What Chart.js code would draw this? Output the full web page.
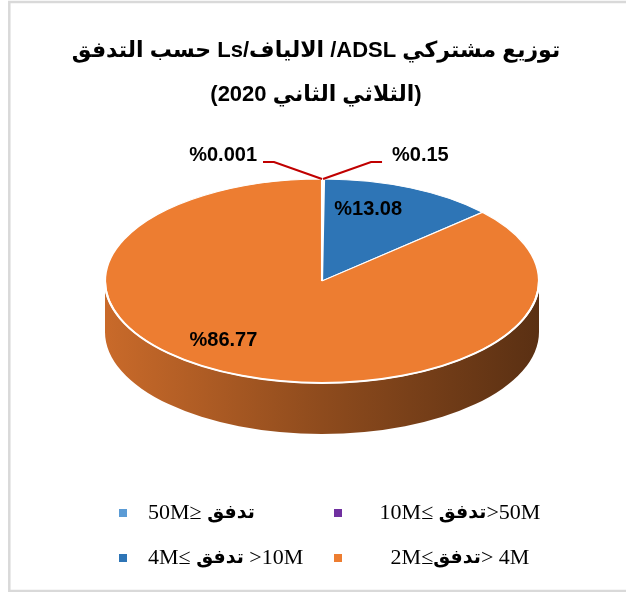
<!DOCTYPE html>
<html>
<head>
<meta charset="utf-8">
<script src="https://cdn.jsdelivr.net/npm/chart.js@4"></script>
<style>
  html, body { margin: 0; padding: 0; background: #fff; }
  canvas { display: block; }
</style>
</head>
<body>
<canvas id="subsChart" width="626" height="592"></canvas>
<script>
// data
const speedLabels = ['50M≥ تدفق', '10M≤ تدفق>50M', '4M≤ تدفق >10M', '2M≤تدفق> 4M'];
const shares = [0.001, 0.15, 13.08, 86.77];
const sliceColors = ['#5B9BD5', '#7030A0', '#2E75B6', '#ED7D31'];
const titleLines = [
  'توزيع مشتركي ADSL/ الالياف/Ls حسب التدفق',
  '(الثلاثي الثاني 2020)'
];

// fake 3d look
const PIE_RX = 217, PIE_RY = 102, DEPTH = 51;
const ARABIC = /([\u0600-\u06FF]+)/;

function shade(hex, k) {
  const n = parseInt(hex.slice(1), 16);
  const r = Math.round(((n >> 16) & 255) * k);
  const g = Math.round(((n >> 8) & 255) * k);
  const b = Math.round((n & 255) * k);
  return `rgb(${r}, ${g}, ${b})`;
}

// legend labels: latin and arabic parts drawn one after the other
function pieces(text) {
  return text.split(ARABIC).filter(p => p).map(p => ({ text: p, arabic: ARABIC.test(p) }));
}

function pieGeom(chart) {
  const arc = chart.getDatasetMeta(0).data[0];
  return { cx: arc.x, cy: arc.y, r: arc.outerRadius };
}

const frame = {
  id: 'frame',
  beforeDraw(chart) {
    const ctx = chart.ctx;
    ctx.save();
    ctx.strokeStyle = '#d9d9d9';
    ctx.lineWidth = 2.5;
    ctx.strokeRect(9.3, 2, 700, 589);
    ctx.restore();
  }
};

// arabic title, right-to-left
const rtlTitle = {
  id: 'rtlTitle',
  afterDraw(chart, args, opts) {
    const ctx = chart.ctx;
    ctx.save();
    ctx.direction = 'rtl';
    ctx.textAlign = 'center';
    ctx.textBaseline = 'middle';
    ctx.fillStyle = '#000';
    ctx.font = opts.font;
    titleLines.forEach((line, k) => ctx.fillText(line, opts.centerX, opts.lineY[k]));
    ctx.restore();
  }
};

const pie3d = {
  id: 'pie3d',
  beforeDatasetsDraw(chart) {
    const ctx = chart.ctx;
    const { cx, cy, r } = pieGeom(chart);
    const arcs = chart.getDatasetMeta(0).data;
    // side wall, only the front half shows
    arcs.forEach((arc, i) => {
      const s = Math.max(arc.startAngle, 0), e = Math.min(arc.endAngle, Math.PI);
      if (e <= s) return;
      const grad = ctx.createLinearGradient(cx - PIE_RX, 0, cx + PIE_RX, 0);
      grad.addColorStop(0, shade(sliceColors[i], 0.85));
      grad.addColorStop(0.5, shade(sliceColors[i], 0.6));
      grad.addColorStop(1, shade(sliceColors[i], 0.38));
      ctx.beginPath();
      ctx.ellipse(cx, cy, PIE_RX, PIE_RY, 0, s, e);
      ctx.ellipse(cx, cy + DEPTH, PIE_RX, PIE_RY, 0, e, s, true);
      ctx.closePath();
      ctx.fillStyle = grad;
      ctx.fill();
    });
    // squash the round pie into the top face
    ctx.save();
    ctx.translate(cx, cy);
    ctx.scale(PIE_RX / r, PIE_RY / r);
    ctx.translate(-cx, -cy);
  },
  afterDatasetsDraw(chart, args, opts) {
    const ctx = chart.ctx;
    ctx.restore();
    const { cx, cy } = pieGeom(chart);
    const arcs = chart.getDatasetMeta(0).data;

    ctx.save();
    ctx.strokeStyle = '#fff';
    ctx.lineWidth = 2;
    ctx.beginPath();
    ctx.ellipse(cx, cy, PIE_RX, PIE_RY, 0, 0, Math.PI);
    ctx.stroke();

    ctx.font = 'bold 20px "Liberation Sans", Arial, sans-serif';
    ctx.fillStyle = '#000';
    ctx.textBaseline = 'middle';
    let outside = 0;
    arcs.forEach((arc, i) => {
      const mid = (arc.startAngle + arc.endAngle) / 2;
      const text = '%' + shares[i];
      if (shares[i] < 1) {
        // tiny slices: label outside with a red leader
        const dir = outside++ % 2 === 0 ? -1 : 1;
        const ax = cx + PIE_RX * Math.cos(mid), ay = cy + PIE_RY * Math.sin(mid);
        const ex = ax + dir * 48, ey = ay - 17;
        ctx.strokeStyle = '#C00000';
        ctx.lineWidth = 2.2;
        ctx.beginPath();
        ctx.moveTo(ax, ay);
        ctx.lineTo(ex, ey);
        ctx.lineTo(ex + dir * 11, ey);
        ctx.stroke();
        ctx.textAlign = dir < 0 ? 'right' : 'left';
        ctx.fillText(text, ex + dir * (dir < 0 ? 17 : 21), ey - 7);
      } else {
        const off = opts.insideOffsets[i] || [0, 0];
        ctx.textAlign = 'center';
        ctx.fillText(text,
          cx + 0.6 * PIE_RX * Math.cos(mid) + off[0],
          cy + 0.6 * PIE_RY * Math.sin(mid) + off[1]);
      }
    });
    ctx.restore();
  }
};

const legendGrid = {
  id: 'legendGrid',
  afterDraw(chart, args, opts) {
    const ctx = chart.ctx;
    ctx.save();
    ctx.direction = 'ltr';
    ctx.textBaseline = 'middle';
    ctx.textAlign = 'left';
    const fontFor = p => p.arabic ? 'bold 19px "DejaVu Sans", sans-serif' : '22px "Liberation Serif", "Times New Roman", serif';
    speedLabels.forEach((label, i) => {
      const col = i % 2, my = opts.rowY[Math.floor(i / 2)];
      ctx.fillStyle = sliceColors[i];
      ctx.fillRect(opts.colX[col] - 4, my - 4, 8, 8);
      ctx.fillStyle = '#000';
      const parts = pieces(label);
      const total = parts.reduce((w, p) => { ctx.font = fontFor(p); return w + ctx.measureText(p.text).width; }, 0);
      let x = opts.align[col] === 'center' ? opts.textX[col] - total / 2 : opts.textX[col];
      parts.forEach(p => {
        ctx.font = fontFor(p);
        ctx.fillText(p.text, x, my);
        x += ctx.measureText(p.text).width;
      });
    });
    ctx.restore();
  }
};

const ctx = document.getElementById('subsChart').getContext('2d');

const subsChart = new Chart(ctx, {
  type: 'pie',
  data: {
    labels: speedLabels,
    datasets: [{
      data: shares,
      backgroundColor: sliceColors,
      borderColor: '#fff',
      borderWidth: 1.5,
      clip: false
    }]
  },
  options: {
    responsive: false,
    animation: false,
    layout: { padding: { top: 125, left: 18, bottom: 155 } },
    plugins: {
      legend: { display: false },
      tooltip: { enabled: false },
      title: { display: false },
      rtlTitle: { font: 'bold 22px "Liberation Sans", "DejaVu Sans", sans-serif', centerX: 316, lineY: [51, 95] },
      pie3d: { insideOffsets: [null, null, [-7, -16], [-46, 3]] },
      legendGrid: { colX: [123, 338], rowY: [513, 558], textX: [148, 460], align: ['left', 'center'] }
    }
  },
  plugins: [frame, rtlTitle, pie3d, legendGrid]
});
</script>
</body>
</html>
